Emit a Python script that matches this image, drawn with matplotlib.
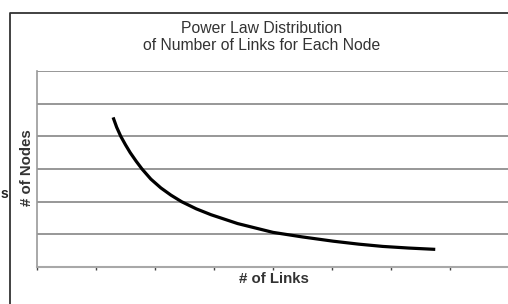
import matplotlib
matplotlib.use("Agg")
import matplotlib.pyplot as plt
from matplotlib.lines import Line2D

plt.rcParams['font.family'] = ['Liberation Sans', 'DejaVu Sans']

title = "Power Law Distribution\nof Number of Links for Each Node"
xlabel = "# of Links"
ylabel = "# of Nodes"

links = [1.29, 1.35, 1.42, 1.5, 1.58, 1.68, 1.78, 1.93, 2.1, 2.27, 2.45, 2.7, 2.95,
         3.4, 4.0, 4.5, 5.02, 5.45, 5.86, 6.3, 6.75]
nodes = [4.58, 4.28, 4.0, 3.74, 3.5, 3.24, 3.0, 2.69, 2.42, 2.2, 2.0, 1.78, 1.6,
         1.33, 1.06, 0.92, 0.79, 0.70, 0.63, 0.58, 0.54]

W, H = 508, 304
fig = plt.figure(figsize=(W / 100, H / 100), dpi=100)
fig.patch.set_facecolor('white')

# outer frame (left and top edges visible)
fig.add_artist(Line2D([9.5 / W, 9.5 / W, 1.05], [-0.05, 1 - 12.5 / H, 1 - 12.5 / H],
                      transform=fig.transFigure, color='#333333', lw=1.3))

x0, x1 = 37, 37 + 8.3 * 59
y0, y1 = 267, 71
ax = fig.add_axes([x0 / W, 1 - y0 / H, (x1 - x0) / W, (y0 - y1) / H])
ax.set_xlim(0, 8.3)
ax.set_ylim(0, 6)

ax.set_yticks(range(0, 7))
ax.set_xticks(range(0, 9))
ax.yaxis.grid(True, color='#7a7a7a', lw=1.1)
ax.set_axisbelow(True)
ax.tick_params(axis='y', length=0, labelleft=False)
ax.tick_params(axis='x', length=2.5, width=1, color='#444444', direction='out', labelbottom=False)
for s in ['top', 'right']:
    ax.spines[s].set_visible(False)
ax.spines['left'].set_color('#9a9a9a')
ax.spines['left'].set_linewidth(1.2)
ax.spines['bottom'].set_color('#a8a8a8')
ax.spines['bottom'].set_linewidth(1.5)

ax.plot(links, nodes, color='black', lw=2.3, solid_capstyle='butt', solid_joinstyle='round')

fig.text(262 / W, 1 - 37 / H, title, ha='center', va='center', fontsize=11.3,
         color='#333333', linespacing=1.17)
fig.text(274 / W, 1 - 279 / H, xlabel, ha='center', va='center', fontsize=10.8,
         color='#333333', fontweight='semibold')
fig.text(27 / W, 1 - 168 / H, ylabel, ha='center', va='center', fontsize=10.8,
         color='#333333', fontweight='semibold', rotation=90)
fig.text(0.5 / W, 1 - 194 / H, "s", ha='left', va='center', fontsize=10,
         color='#222222', fontweight='bold')

fig.savefig("out.png", dpi=100, facecolor='white')
